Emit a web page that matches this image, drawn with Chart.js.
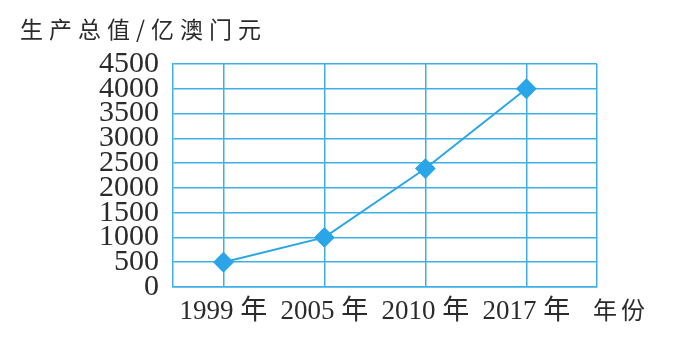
<!DOCTYPE html>
<html><head><meta charset="utf-8">
<script src="https://cdn.jsdelivr.net/npm/chart.js@4/dist/chart.umd.min.js"></script>
<style>html,body{margin:0;padding:0;background:#fff;}#wrap{width:679px;height:341px;position:relative;}</style>
</head><body><div id="wrap"><canvas id="c" width="679" height="341"></canvas></div>
<script>
const years = ['1999 年', '2005 年', '2010 年', '2017 年'];
const gdp = [500, 1000, 2390, 4000];
const yTicks = [0, 500, 1000, 1500, 2000, 2500, 3000, 3500, 4000, 4500];
const yTitle = '生产总值/亿澳门元';
const xTitle = '年份';

const blue = '#3fb0e6';
const textColor = '#2b2b2b';

const extras = {
  id: 'extras',
  afterDraw(chart) {
    const ctx = chart.ctx, a = chart.chartArea;
    ctx.save();
    ctx.fillStyle = textColor;
    ctx.textBaseline = 'middle';
    ctx.font = '23px "Noto Sans CJK SC"';
    ctx.letterSpacing = '6px';
    ctx.textAlign = 'left';
    ctx.fillText(yTitle, 20, 29);
    ctx.letterSpacing = '4px';
    ctx.font = '24px "Noto Sans CJK SC"';
    ctx.fillText(xTitle, a.right - 4, 310);
    ctx.restore();
  }
};

new Chart(document.getElementById('c'), {
  type: 'line',
  data: {
    datasets: [{
      data: gdp.map((v, i) => ({x: i, y: v})),
      borderColor: '#2aa6e8',
      backgroundColor: '#2aa6e8',
      borderWidth: 2,
      pointStyle: 'rectRot',
      pointRadius: 9,
      pointHoverRadius: 9,
      tension: 0
    }]
  },
  options: {
    responsive: false,
    animation: false,
    events: [],
    layout: {padding: {left: 0, right: 82, top: 64, bottom: 0}},
    plugins: {legend: {display: false}, tooltip: {enabled: false}},
    scales: {
      x: {
        type: 'linear',
        min: -0.5, max: 3.7,
        afterBuildTicks(s) { s.ticks = [0, 1, 2, 3, 3.7].map(v => ({value: v})); },
        afterFit(s) { s.height = 341 - 287; },
        grid: {color: blue, lineWidth: 1.5, drawTicks: false},
        border: {color: blue, width: 1.5},
        ticks: {
          padding: 9,
          color: textColor,
          maxRotation: 0,
          autoSkip: false,
          font: {family: '"Liberation Serif", "Noto Sans CJK SC"', size: 27},
          callback(v) { return Number.isInteger(v) ? years[v] : ''; }
        }
      },
      y: {
        min: 0, max: 4500,
        afterBuildTicks(s) { s.ticks = yTicks.map(v => ({value: v})); },
        afterFit(s) { s.width = 173; },
        grid: {color: blue, lineWidth: 1.5, drawTicks: false},
        border: {color: blue, width: 1.5},
        ticks: {
          padding: 14,
          color: textColor,
          autoSkip: false,
          font: {family: '"Liberation Serif"', size: 30},
          callback(v) { return String(v); }
        }
      }
    }
  },
  plugins: [extras]
});
</script></body></html>
